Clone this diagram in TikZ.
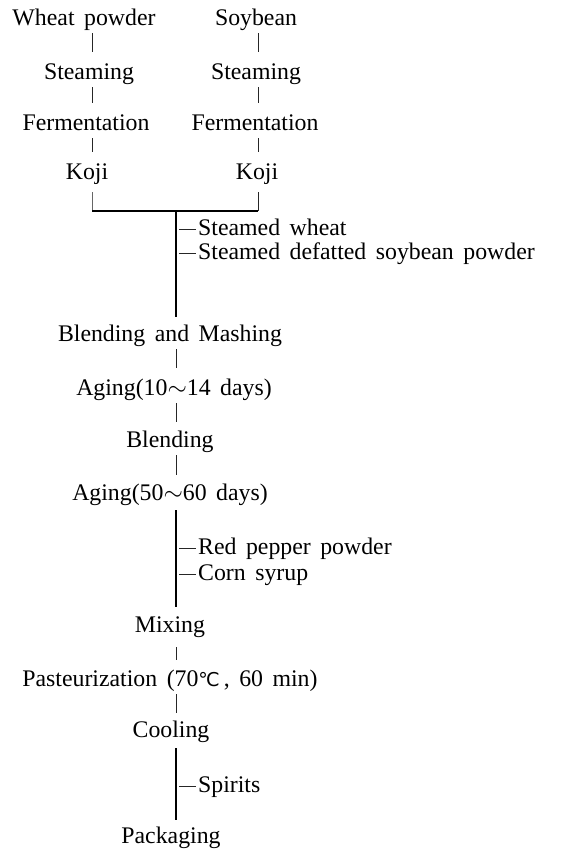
\documentclass[tikz,border=0pt]{standalone}
\usepackage{fontspec}
\setmainfont{Liberation Serif}[WordSpace=1.6]
\newfontfamily\degfont{DejaVu Sans}[Scale=0.8]
\begin{document}
\begin{tikzpicture}[x=1pt,y=-1pt,
  lbl/.style={font=\fontsize{23.8}{28}\selectfont, text height=16pt, text depth=5pt, inner xsep=2pt, inner ysep=3pt, anchor=base},
  side/.style={lbl, anchor=base west},
  ln/.style={line width=0.6pt, black!85},
  stem/.style={line width=1.2pt, black}]
\useasboundingbox (0,0) rectangle (566,849);
% column coordinates
\coordinate (xL) at (92,0);
\coordinate (xR) at (258,0);
\coordinate (xM) at (176,0);
\coordinate (xD) at (179,0);
\coordinate (cL) at (92,211);
\coordinate (cR) at (258,211);
\coordinate (cM) at (176,211);
% nodes
\node[lbl] (wp) at (84,25) {Wheat powder};
\node[lbl] (sb) at (256,25) {Soybean};
\node[lbl] (st1) at (89,79) {Steaming};
\node[lbl] (st2) at (256,79) {Steaming};
\node[lbl] (fe1) at (86,130) {Fermentation};
\node[lbl] (fe2) at (255,130) {Fermentation};
\node[lbl] (kj1) at (87,179) {Koji};
\node[lbl] (kj2) at (257,179) {Koji};
\node[side] (sw) at (196,235) {Steamed wheat};
\node[side] (sd) at (196,259) {Steamed defatted soybean powder};
\node[lbl] (bm) at (170,341) {Blending and Mashing};
\node[lbl] (ag1) at (174,395) {Aging(10$\sim$14 days)};
\node[lbl] (bl) at (170,447) {Blending};
\node[lbl] (ag2) at (170,500) {Aging(50$\sim$60 days)};
\node[side] (rp) at (196,554) {Red pepper powder};
\node[side] (cs) at (196,580) {Corn syrup};
\node[lbl] (mx) at (170,632) {Mixing};
\node[lbl] (pa) at (170,686) {Pasteurization (70{\degfont ℃}\,, 60 min)};
\node[lbl] (co) at (171,737) {Cooling};
\node[side] (sp) at (196,792) {Spirits};
\node[lbl] (pk) at (171,843) {Packaging};
% left column
\draw[ln, shorten >=8pt] (wp.south -| xL) -- (st1.north -| xL);
\draw[ln, shorten >=8pt] (st1.south -| xL) -- (fe1.north -| xL);
\draw[ln, shorten >=8pt] (fe1.south -| xL) -- (kj1.north -| xL);
% right column
\draw[ln, shorten >=8pt] (sb.south -| xR) -- (st2.north -| xR);
\draw[ln, shorten >=8pt] (st2.south -| xR) -- (fe2.north -| xR);
\draw[ln, shorten >=8pt] (fe2.south -| xR) -- (kj2.north -| xR);
% join
\draw[ln, black!60, shorten <=5pt] (kj1.south -| xL) -- (cL);
\draw[ln, shorten <=5pt] (kj2.south -| xR) -- (cR);
\draw[stem] (cL) -- (cR);
\draw[stem, shorten >=5pt] (cM) -- (bm.north -| xM);
\draw[ln] (sw.west -| xD) -- (sw.west);
\draw[ln] (sd.west -| xD) -- (sd.west);
% main column
\draw[ln, shorten >=8pt] (bm.south -| xM) -- (ag1.north -| xM);
\draw[ln, shorten >=6pt] (ag1.south -| xM) -- (bl.north -| xM);
\draw[ln, shorten >=6pt] (bl.south -| xM) -- (ag2.north -| xM);
\draw[stem, shorten <=2pt, shorten >=6pt] (ag2.south -| xM) -- (mx.north -| xM);
\draw[ln] (rp.west -| xD) -- (rp.west);
\draw[ln] (cs.west -| xD) -- (cs.west);
\draw[ln, shorten <=7pt, shorten >=7pt] (mx.south -| xM) -- (pa.north -| xM);
\draw[ln, shorten >=5pt] (pa.south -| xM) -- (co.north -| xM);
\draw[stem, shorten <=3pt, shorten >=4pt] (co.south -| xM) -- (pk.north -| xM);
\draw[ln] (sp.west -| xD) -- (sp.west);
\end{tikzpicture}
\end{document}
